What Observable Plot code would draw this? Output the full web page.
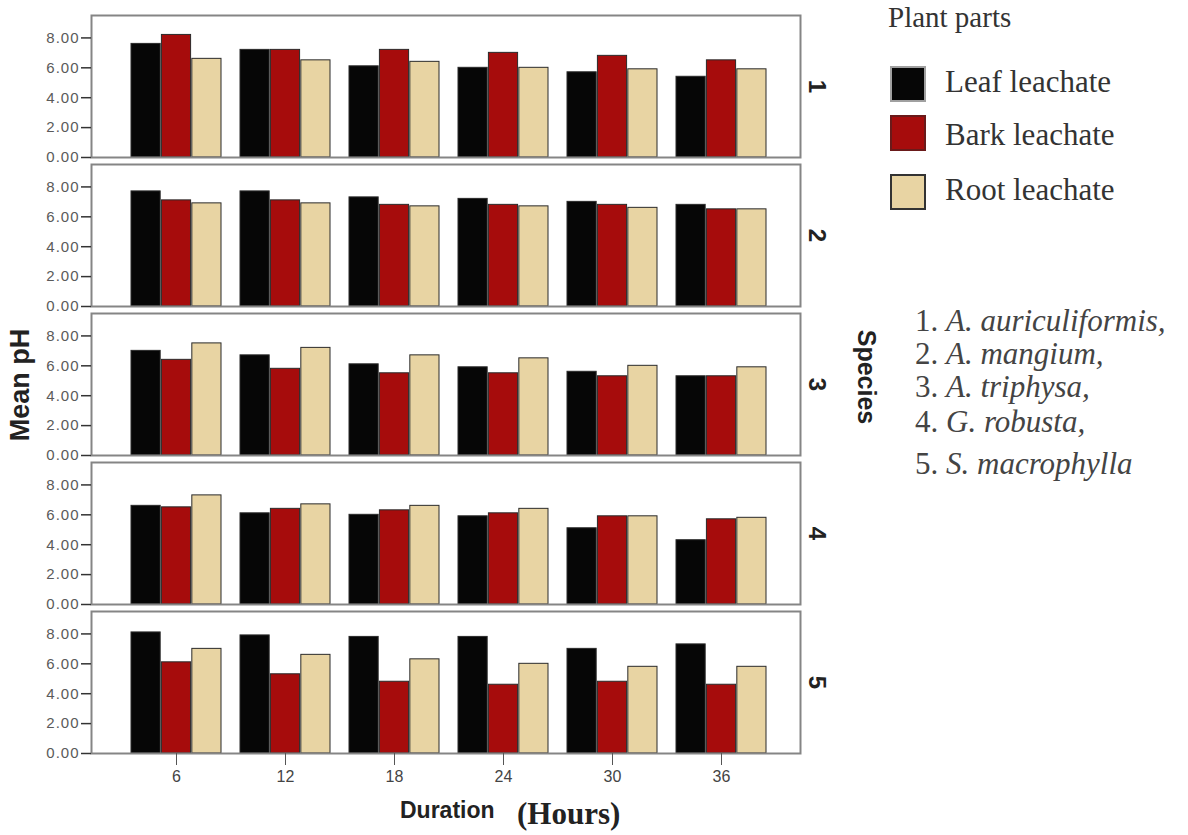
<!DOCTYPE html>
<html>
<head>
<meta charset="utf-8">
<script src="https://cdn.jsdelivr.net/npm/d3@7"></script>
<script src="https://cdn.jsdelivr.net/npm/@observablehq/plot@0.6"></script>
<style>
  body { margin: 0; background: #fff; }
  #wrap { position: relative; width: 1188px; height: 835px; overflow: hidden; background:#fff; }
  #chart { position: absolute; left: 0; top: 0; }
  .serif { font-family: "Liberation Serif", "Times New Roman", serif; color: #333; position: absolute; white-space: nowrap; }
  .sw { position: absolute; width: 36px; height: 36px; box-sizing: border-box; }
</style>
</head>
<body>
<div id="wrap">
  <div id="chart"></div>
</div>
<script>
// ---- data ----
const durations = [6, 12, 18, 24, 30, 36];
const speciesIds = [1, 2, 3, 4, 5];
const speciesNames = ["A. auriculiformis,", "A. mangium,", "A. triphysa,", "G. robusta,", "S. macrophylla"];
const parts = ["Leaf leachate", "Bark leachate", "Root leachate"];
const partColors = ["#060606", "#a60c0c", "#e8d4a3"];

const leaf = [
  [7.6, 7.2, 6.1, 6.0, 5.7, 5.4],
  [7.7, 7.7, 7.3, 7.2, 7.0, 6.8],
  [7.0, 6.7, 6.1, 5.9, 5.6, 5.3],
  [6.6, 6.1, 6.0, 5.9, 5.1, 4.3],
  [8.1, 7.9, 7.8, 7.8, 7.0, 7.3]
];
const bark = [
  [8.2, 7.2, 7.2, 7.0, 6.8, 6.5],
  [7.1, 7.1, 6.8, 6.8, 6.8, 6.5],
  [6.4, 5.8, 5.5, 5.5, 5.3, 5.3],
  [6.5, 6.4, 6.3, 6.1, 5.9, 5.7],
  [6.1, 5.3, 4.8, 4.6, 4.8, 4.6]
];
const root = [
  [6.6, 6.5, 6.4, 6.0, 5.9, 5.9],
  [6.9, 6.9, 6.7, 6.7, 6.6, 6.5],
  [7.5, 7.2, 6.7, 6.5, 6.0, 5.9],
  [7.3, 6.7, 6.6, 6.4, 5.9, 5.8],
  [7.0, 6.6, 6.3, 6.0, 5.8, 5.8]
];
const series = [leaf, bark, root];

// ---- table ----
const rows = [];
series.forEach((s, pi) => s.forEach((vals, si) => vals.forEach((v, di) => {
  rows.push({part: parts[pi], species: speciesIds[si], duration: durations[di], value: v});
})));

// ---- layout ----
const W = 890, H = 835;
const mL = 91, mR = 90, mT = 13, mB = 81;
const xBand = {paddingInner: 0.17, paddingOuter: 0.31, align: 0.55};
const bw = Plot.scale({x: {type: "band", domain: durations, range: [mL, W - mR], ...xBand}}).bandwidth;
const w3 = bw / 3;

const barMarks = parts.map((p, i) => Plot.barY(rows.filter(d => d.part === p), {
  x: "duration", y: "value", fy: "species",
  fill: partColors[i], stroke: "#2a2a2a", strokeWidth: 1,
  insetLeft: i * w3, insetRight: (2 - i) * w3
}));

const plot = Plot.plot({
  width: W, height: H,
  marginLeft: mL, marginRight: mR, marginTop: mT, marginBottom: mB,
  style: {fontFamily: "Liberation Sans, Arial, sans-serif", background: "transparent", fontSize: "15px"},
  x: {domain: durations, ...xBand},
  y: {domain: [0, 9.5]},
  fy: {domain: speciesIds, paddingInner: 0.05, paddingOuter: 0},
  marks: [
    ...barMarks,
    Plot.frame({stroke: "#858585", strokeWidth: 2}),
    Plot.ruleX([0], {frameAnchor: "left", stroke: "#444", strokeWidth: 1.5}),
    Plot.axisY({ticks: 5, tickFormat: d => d.toFixed(2), tickSize: 10, tickPadding: 2, fontSize: 15, label: null, fill: "#5a5a5a", stroke: "#333", strokeWidth: 1.5}),
    Plot.axisX({tickSize: 12, tickPadding: 5, fontSize: 16, label: null, fill: "#444", stroke: "#555", fontFamily: "Liberation Sans Narrow, Liberation Sans, Arial, sans-serif"}),
    Plot.axisFy({anchor: "right", tickSize: 0, tickPadding: 26, tickRotate: 90, fontSize: 24, fontWeight: "bold", label: null, fill: "#222"})
  ]
});
document.getElementById("chart").appendChild(plot);
d3.select(plot).selectAll("g[aria-label='y-axis tick label'] text").attr("letter-spacing", "1px");

// extra axis titles
const svg = d3.select(plot);
svg.append("text")
  .attr("transform", "translate(22,385) rotate(-90)")
  .attr("text-anchor", "middle").attr("dominant-baseline", "middle")
  .attr("font-family", "Liberation Sans, Arial, sans-serif").attr("font-weight", "bold")
  .attr("font-size", 27).attr("fill", "#222").text("Mean pH");
svg.append("text")
  .attr("transform", "translate(865,377) rotate(90)")
  .attr("text-anchor", "middle").attr("dominant-baseline", "middle")
  .attr("font-family", "Liberation Sans, Arial, sans-serif").attr("font-weight", "bold")
  .attr("font-size", 25).attr("fill", "#222").text("Species");
svg.append("text").attr("x", 400).attr("y", 818).attr("text-anchor", "start")
  .attr("font-family", "Liberation Sans, Arial, sans-serif").attr("font-weight", "bold")
  .attr("font-size", 23).attr("fill", "#222").text("Duration");
svg.append("text").attr("x", 517).attr("y", 824).attr("text-anchor", "start")
  .attr("font-family", "Liberation Serif, Times New Roman, serif").attr("font-weight", "bold")
  .attr("font-size", 31).attr("fill", "#222").text("(Hours)");

// ---- legend ----
const wrap = document.getElementById("wrap");
function add(html, css, cls) {
  const d = document.createElement("div");
  d.className = cls;
  Object.assign(d.style, css);
  d.innerHTML = html;
  wrap.appendChild(d);
  return d;
}
add("Plant parts", {left: "888px", top: "2px", fontSize: "29px", lineHeight: "30px"}, "serif");
const swTop = [66, 115, 174];
const labTop = [63, 116, 171];
parts.forEach((p, i) => {
  add("", {left: "890px", top: swTop[i] + "px", background: partColors[i],
    border: i === 2 ? "2px solid #333" : "2px solid " + (i === 0 ? "#a0a0a0" : "#6a1a1a")}, "sw");
  add(p, {left: "945px", top: labTop[i] + "px", fontSize: "31px", lineHeight: "38px"}, "serif");
});
const lineTops = [303, 336, 369, 404, 446];
speciesNames.forEach((n, i) => {
  add(`${speciesIds[i]}. <i>${n}</i>`, {left: "915px", top: lineTops[i] + "px", fontSize: "31px", lineHeight: "36px", color: "#444"}, "serif");
});
</script>
</body>
</html>
